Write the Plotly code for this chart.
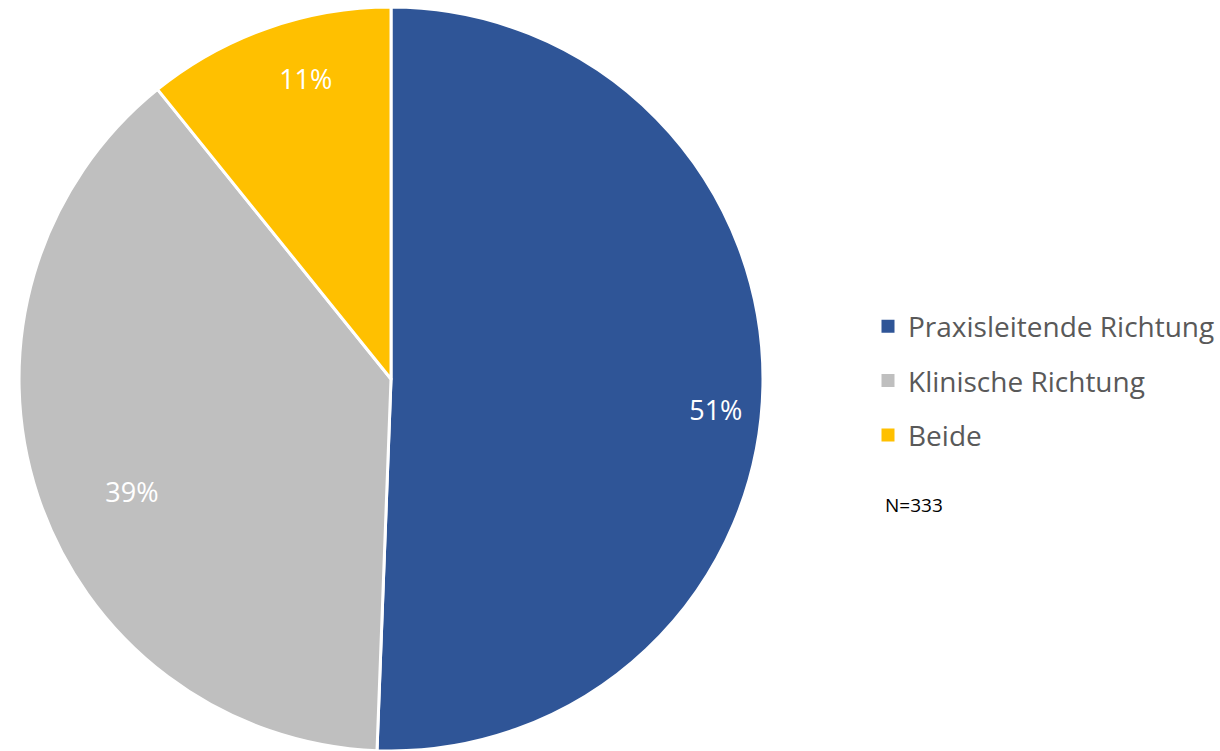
import plotly.graph_objects as go

labels = ["Praxisleitende Richtung", "Klinische Richtung", "Beide"]
values = [50.6, 38.6, 10.8]
colors = ["#2F5597", "#BFBFBF", "#FFC000"]
note = "N=333"

FONT = "Open Sans"
pie_domain = dict(x=[0.0156, 0.6254], y=[0.0, 0.9907])
# ring and small angular nudge used to place each percentage label (one overlay per slice)
label_holes = [0.754, 0.52, 0.68]
label_turns = [4.3, -5.2, 3.6]

fig = go.Figure()

# main pie
fig.add_trace(go.Pie(
    labels=labels, values=values, sort=False, direction="clockwise", rotation=0,
    marker=dict(colors=colors, line=dict(color="white", width=3)),
    textinfo="none", showlegend=False, domain=pie_domain,
    hoverinfo="label+percent",
))

# transparent overlays carrying the percentage labels
for i, (h, rot) in enumerate(zip(label_holes, label_turns)):
    tt = ["" for _ in labels]
    tt[i] = "%{percent:.0%}"
    fig.add_trace(go.Pie(
        labels=labels, values=values, sort=False, direction="clockwise", rotation=rot,
        hole=h,
        marker=dict(colors=["rgba(0,0,0,0)"] * len(labels), line=dict(width=0)),
        textinfo="none", texttemplate=tt, textposition="inside",
        insidetextorientation="horizontal",
        textfont=dict(family=FONT, size=27, color="white"),
        showlegend=False, hoverinfo="skip", domain=pie_domain,
    ))

# legend entries
for lab, col in zip(labels, colors):
    fig.add_trace(go.Scatter(
        x=[None], y=[None], mode="markers", name=lab, legendgroup=lab,
        marker=dict(symbol="square", size=13, color=col),
        showlegend=True, hoverinfo="skip",
    ))

fig.update_layout(
    width=1220, height=751,
    margin=dict(l=0, r=0, t=0, b=0),
    paper_bgcolor="white", plot_bgcolor="white",
    xaxis=dict(visible=False), yaxis=dict(visible=False),
    font=dict(family=FONT, color="#595959"),
    legend=dict(
        x=0.7115, y=0.4927, xanchor="left", yanchor="middle",
        font=dict(family=FONT, size=28, color="#595959"),
        bgcolor="rgba(0,0,0,0)",
        traceorder="grouped", tracegroupgap=15,
    ),
    annotations=[dict(
        text=note, x=0.7238, y=0.3276, xref="paper", yref="paper",
        xanchor="left", yanchor="middle", showarrow=False,
        font=dict(family=FONT, size=19, color="black"),
    )],
)

fig.write_html("out.html", config={"displayModeBar": False},
               post_script="document.body.style.margin='0';")
